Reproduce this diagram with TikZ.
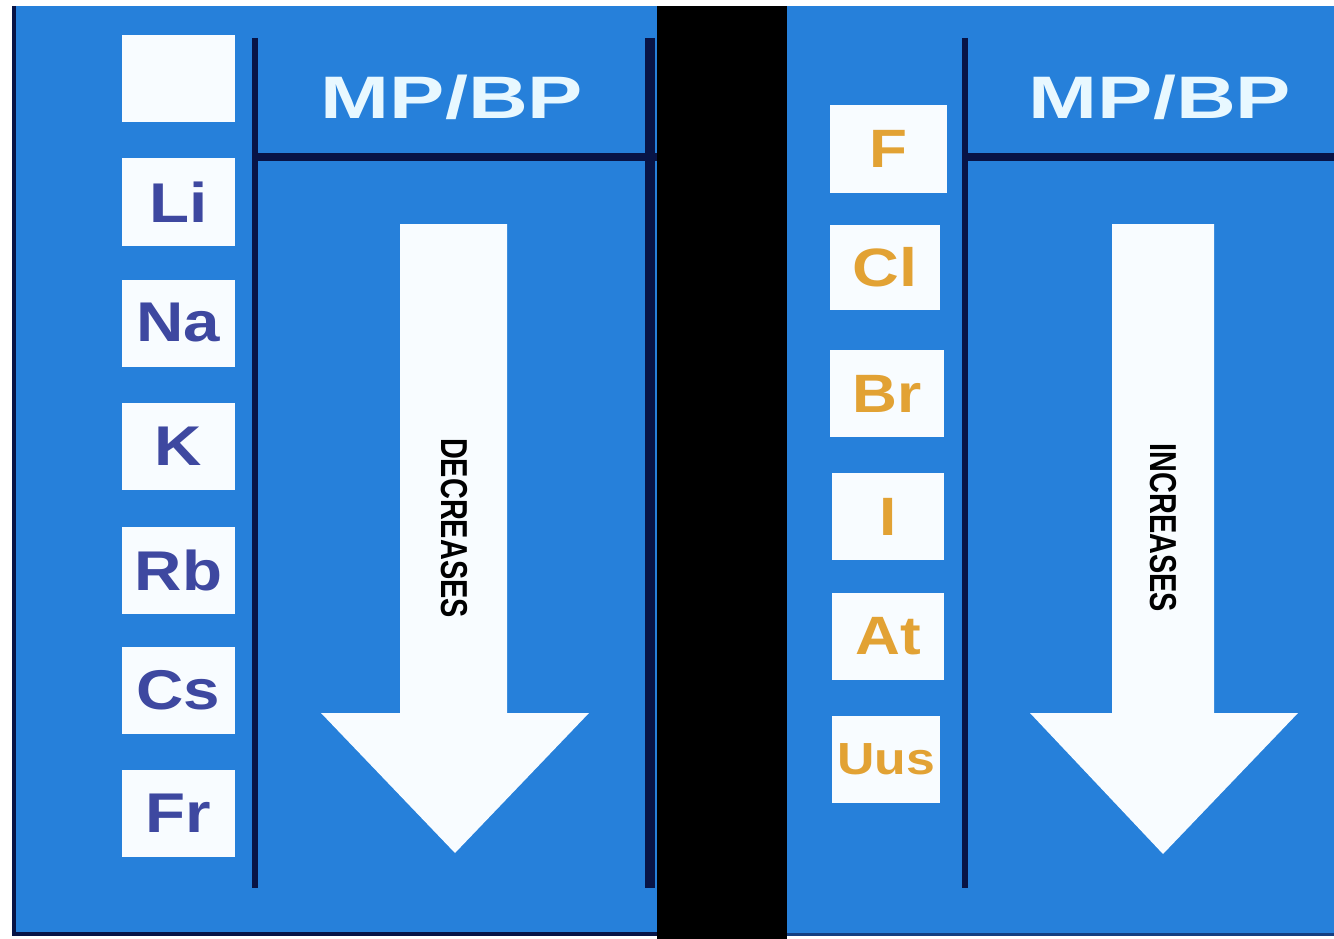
\documentclass[tikz,border=0pt]{standalone}
\usepackage{fontspec}
\setmainfont{Liberation Sans}
\definecolor{panelblue}{RGB}{38,128,218}
\definecolor{navy}{RGB}{8,20,70}
\definecolor{boxwhite}{RGB}{248,252,255}
\definecolor{elemblue}{RGB}{62,72,160}
\definecolor{elemorange}{RGB}{226,162,52}
\definecolor{titlewhite}{RGB}{232,248,255}
\begin{document}
\begin{tikzpicture}[x=1pt,y=-1pt,
  elembox/.style={fill=boxwhite, draw=none, inner sep=0pt, minimum width=113, minimum height=87},
  alkali/.style={elembox, text=elemblue, font=\bfseries\fontsize{56}{60}\selectfont},
  halogen/.style={elembox, text=elemorange, font=\bfseries\fontsize{54}{58}\selectfont},
  divider/.style={draw=navy, line width=6, line cap=butt},
  hdivider/.style={draw=navy, line width=8},
  titletext/.style={text=titlewhite, inner sep=0pt, font=\bfseries\fontsize{60}{64}\selectfont},
  arrowtext/.style={text=black, inner sep=0pt, rotate=-90, font=\bfseries\fontsize{37.5}{40}\selectfont},
  bigarrow/.style={fill=boxwhite, draw=none}
]
\useasboundingbox (0,0) rectangle (1334,939);
\fill[white] (0,0) rectangle (1334,939);
% panels
\fill[panelblue] (12,6) rectangle (657,935);
\fill[panelblue] (787,6) rectangle (1334,935);
\fill[black] (657,6) rectangle (787,939);
\draw[navy, line width=4] (14,6) -- (14,934) -- (657,934);
\draw[navy!60!panelblue, line width=3] (787,934) -- (1334,934);

% ---------- left panel ----------
\coordinate (lv1t) at (255,38);  \coordinate (lv1b) at (255,888);
\coordinate (lv2t) at (650,38);  \coordinate (lv2b) at (650,888);
\coordinate (lh1a) at (255,157); \coordinate (lh1b) at (657,157);
\draw[divider] (lv1t) -- (lv1b);
\draw[divider, line width=10] (lv2t) -- (lv2b);
\draw[hdivider] (lh1a) -- (lh1b);

\node[alkali] (blank) at (178.5,78.5) {};
\node[alkali] (li) at (178.5,202) {\scalebox{1.17}[1]{Li}};
\node[alkali] (na) at (178.5,323) {\scalebox{1.17}[1]{Na}};
\node[alkali] (k)  at (178.5,446.5) {\scalebox{1.17}[1]{K}};
\node[alkali] (rb) at (178.5,570) {\scalebox{1.17}[1]{Rb}};
\node[alkali] (cs) at (178.5,690) {\scalebox{1.17}[1]{Cs}};
\node[alkali] (fr) at (178.5,813.5) {\scalebox{1.17}[1]{Fr}};

\node[titletext] (t1) at (452,97) {\scalebox{1.38}[1]{MP/BP}};

\fill[bigarrow] (400,224) -- (507,224) -- (507,713) -- (589,713) -- (455,853) -- (321,713) -- (400,713) -- cycle;
\node[arrowtext] (dec) at (454,528) {\scalebox{0.77}[1]{DECREASES}};

% ---------- right panel ----------
\coordinate (rv1t) at (965,38);  \coordinate (rv1b) at (965,888);
\coordinate (rh1a) at (965,157); \coordinate (rh1b) at (1334,157);
\draw[divider] (rv1t) -- (rv1b);
\draw[hdivider] (rh1a) -- (rh1b);

\node[halogen, minimum width=117, minimum height=88] (f)  at (888.5,149) {\scalebox{1.15}[1]{F}};
\node[halogen, minimum width=110, minimum height=85] (cl) at (885,267.5) {\scalebox{1.2}[1]{Cl}};
\node[halogen, minimum width=114] (br) at (887,393.5) {\scalebox{1.15}[1]{Br}};
\node[halogen, minimum width=112] (i)  at (888,516.5) {\scalebox{1.15}[1]{I}};
\node[halogen, minimum width=112] (at) at (888,636.5) {\scalebox{1.15}[1]{At}};
\node[halogen, minimum width=108, font=\bfseries\fontsize{45}{48}\selectfont] (uus) at (886,759) {\scalebox{1.15}[1]{Uus}};

\node[titletext] (t2) at (1160,97) {\scalebox{1.38}[1]{MP/BP}};

\fill[bigarrow] (1112,224) -- (1214,224) -- (1214,713) -- (1298,713) -- (1163,854) -- (1030,713) -- (1112,713) -- cycle;
\node[arrowtext] (inc) at (1163,528) {\scalebox{0.77}[1]{INCREASES}};
\end{tikzpicture}
\end{document}
